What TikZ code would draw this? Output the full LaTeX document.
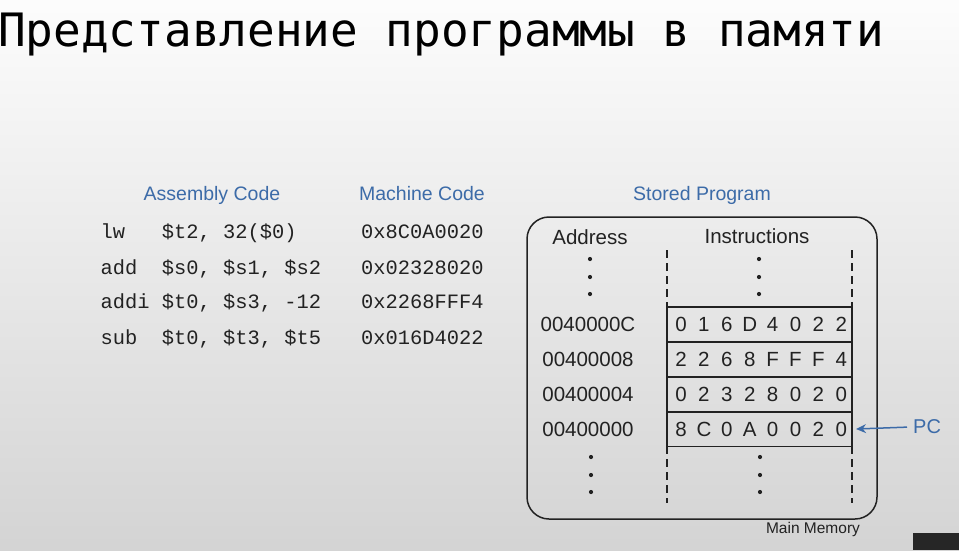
\documentclass[tikz,border=0pt]{standalone}
\usepackage{fontspec}
\setmainfont{Liberation Sans}
\newfontfamily\titlefont{DejaVu Sans Mono}
\newfontfamily\codefont{Liberation Mono}
\usetikzlibrary{arrows.meta}

\definecolor{headblue}{HTML}{3C6BA8}
\definecolor{ink}{HTML}{222222}

\tikzset{
  heading/.style={anchor=base, inner sep=0pt, text=headblue, font=\fontsize{19.5}{22}\selectfont},
  codeline/.style={anchor=base west, inner sep=0pt, text=ink, font=\codefont\fontsize{20.4}{22}\selectfont},
  label/.style={anchor=base, inner sep=0pt, text=ink, font=\fontsize{20.5}{22}\selectfont},
  cell/.style={draw=ink, line width=1.4pt, minimum width=185pt, minimum height=35pt, inner sep=0pt},
  guide/.style={draw=ink, line width=1.3pt, dash pattern=on 8pt off 5pt},
  vdot/.style={circle, fill=ink, inner sep=0pt, minimum size=4.2pt},
  pcarrow/.style={draw=headblue, line width=1.5pt, -{Stealth[length=10pt, width=9pt]}}
}

\begin{document}
\begin{tikzpicture}[x=1pt, y=-1pt]
  \useasboundingbox (0,0) rectangle (959,550);
  % backdrop
  \shade[top color=white!98!gray, bottom color=black!17] (0,0) rectangle (959,550);
  \fill[black!85] (913,533) rectangle (959,550);

  % title
  \node[anchor=base west, inner sep=0pt, font=\titlefont\fontsize{46}{50}\selectfont] (title) at (-2,46) {Представление программы в памяти};

  % column headings
  \node[heading] (hasm) at (212,200.5) {Assembly Code};
  \node[heading] (hmc) at (422,200.5) {Machine Code};
  \node[heading] (hsp) at (702,200.5) {Stored Program};

  % assembly listing and its machine code (fixed-width columns)
  \foreach \asm/\mc/\y [count=\i] in {
      {lw~~~\$t2,~32(\$0)}/0x8C0A0020/238,
      {add~~\$s0,~\$s1,~\$s2}/0x02328020/274,
      {addi~\$t0,~\$s3,~-12}/0x2268FFF4/308,
      {sub~~\$t0,~\$t3,~\$t5}/0x016D4022/344} {
    \node[codeline] (asm\i) at (100.5,\y) {\asm};
    \node[codeline] (mc\i) at (361,\y) {\mc};
  }

  % main memory
  \draw[ink, line width=1.5pt, rounded corners=22pt] (527,217) rectangle (877,519);
  \node[label] (haddr) at (590,244) {Address};
  \node[label] (hinstr) at (757,243) {Instructions};

  % dashed column guides
  \draw[guide] (667,250) -- (667,306);
  \draw[guide] (852,250) -- (852,306);
  \draw[guide] (667,446) -- (667,503);
  \draw[guide] (852,446) -- (852,503);

  % ellipsis dots
  \foreach \y [count=\k] in {259,277,294} {
    \node[vdot] (dta\k) at (590,\y) {};
    \node[vdot] (dti\k) at (759,\y) {};
  }
  \foreach \y [count=\k] in {457,475,492} {
    \node[vdot] (dba\k) at (591,\y) {};
    \node[vdot] (dbi\k) at (760,\y) {};
  }

  % memory words
  \foreach \addr/\word/\y [count=\r] in {
      0040000C/{0,1,6,D,4,0,2,2}/324.5,
      00400008/{2,2,6,8,F,F,F,4}/359.5,
      00400004/{0,2,3,2,8,0,2,0}/394.5,
      00400000/{8,C,0,A,0,0,2,0}/429} {
    \node[cell] (row\r) at (759.5,\y) {};
    \node[label] (addr\r) at (588,\y+7) {\addr};
    \foreach \d [count=\c] in \word {
      \node[label] (dig\r-\c) at ({681+(\c-1)*22.9},\y+7) {\d};
    }
  }

  % program counter
  \node[anchor=base west, inner sep=0pt, text=headblue, font=\fontsize{20}{22}\selectfont] (pc) at (913,433) {PC};
  \draw[pcarrow] (pc.west) ++(-6pt,-1pt) coordinate (pctail) (pctail) -- (row4.east -| 856,0);

  \node[anchor=base, inner sep=0pt, text=ink, font=\fontsize{15.5}{17}\selectfont] (mm) at (813,533) {Main Memory};
\end{tikzpicture}
\end{document}
